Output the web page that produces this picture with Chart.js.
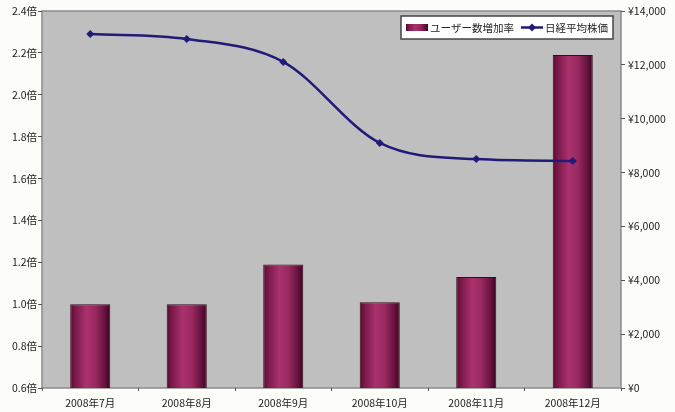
<!DOCTYPE html>
<html>
<head>
<meta charset="utf-8">
<script src="https://cdn.jsdelivr.net/npm/chart.js@4/dist/chart.umd.min.js"></script>
<style>
  html, body { margin: 0; padding: 0; background: #fcfcf8; }
  #wrap { width: 675px; height: 412px; }
</style>
</head>
<body>
<div id="wrap"><canvas id="myChart" width="675" height="412"></canvas></div>
<script>
// data
const months = ['2008年7月', '2008年8月', '2008年9月', '2008年10月', '2008年11月', '2008年12月'];
const userGrowth = [1.00, 1.00, 1.19, 1.01, 1.13, 2.19];   // 倍
const nikkei = [13150, 12960, 12110, 9100, 8500, 8430];     // ¥
const leftTicks = [0.6, 0.8, 1.0, 1.2, 1.4, 1.6, 1.8, 2.0, 2.2, 2.4];
const rightTicks = [0, 2000, 4000, 6000, 8000, 10000, 12000, 14000];
const seriesNames = ['ユーザー数増加率', '日経平均株価'];

const BAR_FRAC = 0.415;
const LINE_COLOR = '#201b78';

// cylinder look for the bars
function barGradient(ctx, left, right) {
  const g = ctx.createLinearGradient(left, 0, right, 0);
  g.addColorStop(0, '#560a30');
  g.addColorStop(0.12, '#7a1849');
  g.addColorStop(0.4, '#a9326d');
  g.addColorStop(0.62, '#9a2a60');
  g.addColorStop(0.86, '#68123f');
  g.addColorStop(1, '#38061e');
  return g;
}

// gray plot area with frame
const plotArea = {
  id: 'plotArea',
  beforeDraw(chart) {
    const { ctx, chartArea: a } = chart;
    ctx.save();
    ctx.fillStyle = '#fcfcf8';
    ctx.fillRect(0, 0, chart.width, chart.height);
    ctx.fillStyle = '#bfbfbf';
    ctx.fillRect(a.left, a.top, a.right - a.left, a.bottom - a.top);
    ctx.strokeStyle = '#8a8a8a';
    ctx.lineWidth = 1.5;
    ctx.strokeRect(a.left, a.top, a.right - a.left, a.bottom - a.top);
    ctx.restore();
  }
};

// legend box inside the plot, top right
const boxLegend = {
  id: 'boxLegend',
  afterDraw(chart) {
    const { ctx, chartArea: a } = chart;
    ctx.save();
    ctx.font = "10.5px 'Noto Sans CJK JP', 'DejaVu Sans', sans-serif";
    const w1 = ctx.measureText(seriesNames[0]).width;
    const w2 = ctx.measureText(seriesNames[1]).width;
    const sw = 22;
    const boxW = 5 + sw + 2 + w1 + 7 + sw + 2 + w2 + 5;
    const boxH = 23;
    const x0 = a.right - 8 - boxW;
    const y0 = a.top + 5;
    const cy = y0 + boxH / 2;

    ctx.fillStyle = '#ffffff';
    ctx.fillRect(x0, y0, boxW, boxH);
    ctx.strokeStyle = '#444';
    ctx.lineWidth = 1.5;
    ctx.strokeRect(x0, y0, boxW, boxH);

    let x = x0 + 5;
    ctx.fillStyle = barGradient(ctx, x, x + sw);
    ctx.fillRect(x, cy - 3.5, sw, 7);
    x += sw + 2;
    ctx.fillStyle = '#222';
    ctx.textBaseline = 'middle';
    ctx.fillText(seriesNames[0], x, cy + 0.5);
    x += w1 + 7;

    ctx.strokeStyle = LINE_COLOR;
    ctx.lineWidth = 2.5;
    ctx.beginPath();
    ctx.moveTo(x, cy);
    ctx.lineTo(x + sw, cy);
    ctx.stroke();
    ctx.fillStyle = LINE_COLOR;
    ctx.beginPath();
    ctx.moveTo(x + sw / 2, cy - 4);
    ctx.lineTo(x + sw / 2 + 4, cy);
    ctx.lineTo(x + sw / 2, cy + 4);
    ctx.lineTo(x + sw / 2 - 4, cy);
    ctx.closePath();
    ctx.fill();
    x += sw + 2;
    ctx.fillStyle = '#222';
    ctx.fillText(seriesNames[1], x, cy + 0.5);
    ctx.restore();
  }
};

Chart.defaults.font.family = "'Noto Sans CJK JP', 'DejaVu Sans', sans-serif";
Chart.defaults.font.size = 10.5;
Chart.defaults.color = '#222';

const ctx = document.getElementById('myChart').getContext('2d');
new Chart(ctx, {
  data: {
    labels: months,
    datasets: [
      {
        type: 'bar',
        label: seriesNames[0],
        data: userGrowth,
        yAxisID: 'y',
        order: 2,
        categoryPercentage: 1,
        barPercentage: BAR_FRAC,
        borderColor: '#3a0a22',
        borderWidth: 1,
        backgroundColor: function (c) {
          const chart = c.chart;
          const xs = chart.scales.x;
          if (!chart.chartArea || !xs) return '#a02c64';
          const center = xs.getPixelForValue(c.dataIndex);
          const half = (chart.chartArea.width / months.length) * BAR_FRAC / 2;
          return barGradient(chart.ctx, center - half, center + half);
        }
      },
      {
        type: 'line',
        label: seriesNames[1],
        data: nikkei,
        yAxisID: 'y1',
        order: 1,
        borderColor: LINE_COLOR,
        backgroundColor: LINE_COLOR,
        borderWidth: 2.5,
        cubicInterpolationMode: 'monotone',
        pointStyle: 'rectRot',
        pointRadius: 4,
        pointBorderWidth: 0
      }
    ]
  },
  options: {
    responsive: false,
    animation: false,
    layout: { padding: { top: 11, left: 0, right: 0, bottom: 0 } },
    scales: {
      x: {
        afterFit: function (s) { s.height = 24; },
        border: { display: false },
        grid: { drawOnChartArea: false, tickLength: 3, color: '#555', offset: true },
        ticks: { padding: 6, maxRotation: 0, autoSkip: false }
      },
      y: {
        position: 'left',
        min: leftTicks[0],
        max: leftTicks[leftTicks.length - 1],
        afterFit: function (s) { s.width = 42; },
        afterBuildTicks: function (s) { s.ticks = leftTicks.map(v => ({ value: v })); },
        border: { display: false },
        grid: { drawOnChartArea: false, tickLength: 4, color: '#555' },
        ticks: {
          padding: 1,
          callback: function (value) { return value.toFixed(1) + '倍'; }
        }
      },
      y1: {
        position: 'right',
        min: rightTicks[0],
        max: rightTicks[rightTicks.length - 1],
        afterFit: function (s) { s.width = 54; },
        afterBuildTicks: function (s) { s.ticks = rightTicks.map(v => ({ value: v })); },
        border: { display: false },
        grid: { drawOnChartArea: false, tickLength: 4, color: '#555' },
        ticks: {
          padding: 3,
          callback: function (value) { return '¥' + value.toLocaleString('en-US'); }
        }
      }
    },
    plugins: {
      legend: { display: false },
      tooltip: { enabled: false }
    }
  },
  plugins: [plotArea, boxLegend]
});
</script>
</body>
</html>
